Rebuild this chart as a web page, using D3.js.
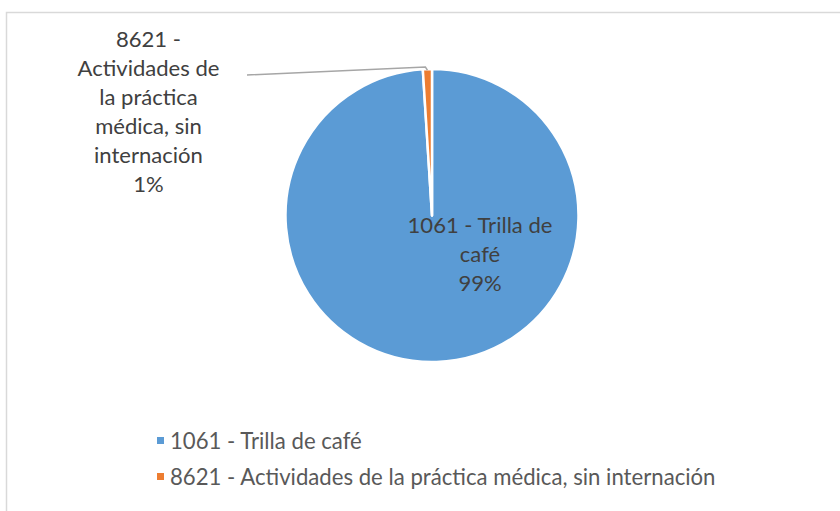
<!DOCTYPE html>
<html>
<head>
<meta charset="utf-8">
<script src="https://cdn.jsdelivr.net/npm/d3@7"></script>
<style>
  body { margin: 0; background: #fff; }
  svg { display: block; }
  text { font-family: Lato, "Open Sans", sans-serif; }
</style>
</head>
<body>
<div id="chart"></div>
<script>
// data
var categories = ["1061 - Trilla de café", "8621 - Actividades de la práctica médica, sin internación"];
var values = [99, 1];
var percentLabels = ["99%", "1%"];
var colors = ["#5B9BD5", "#ED7D31"];
// data label lines as Excel wrapped them
var labelLines = [
  ["1061 - Trilla de", "café"],
  ["8621 -", "Actividades de", "la práctica", "médica, sin", "internación"]
];

var width = 840, height = 511;
var cx = 432, cy = 215.5, radius = 146.5;

var svg = d3.select("#chart").append("svg")
    .attr("width", width)
    .attr("height", height);

// chart area border (only top/left visible in the crop)
svg.append("rect")
    .attr("x", 6.5)
    .attr("y", 12.5)
    .attr("width", 900)
    .attr("height", 600)
    .attr("fill", "#fff")
    .attr("stroke", "#d9d9d9")
    .attr("stroke-width", 1.5);

// helper: find font size so a string gets a target width
function fitSize(str, target){
    var t = svg.append("text").attr("font-size", 100).text(str);
    var w = t.node().getComputedTextLength();
    t.remove();
    return 100 * target / w;
}
var labelSize = fitSize("Actividades de", 142);
var legendSize = fitSize(categories[1], 546);

var pie = d3.pie().sort(null).value(function(d){ return d; });
var arcs = pie(values);

var arc = d3.arc().innerRadius(0).outerRadius(radius);

var g = svg.append("g")
    .attr("transform", "translate(" + cx + "," + cy + ")");

g.selectAll("path")
    .data(arcs)
    .enter().append("path")
    .attr("d", arc)
    .attr("fill", function(d, i){ return colors[i]; })
    .attr("stroke", "#fff")
    .attr("stroke-width", 2.5)
    .attr("stroke-linejoin", "round");

// leader line for the small slice
var small = arcs[1];
var mid = (small.startAngle + small.endAngle) / 2;
var px = Math.sin(mid) * radius, py = -Math.cos(mid) * radius;
g.append("polyline")
    .attr("points", [[247 - cx, 75 - cy], [px - 2, py - 2], [px, py + 1]].map(function(p){ return p.join(","); }).join(" "))
    .attr("fill", "none")
    .attr("stroke", "#a6a6a6")
    .attr("stroke-width", 1.5);

// inside label for the big slice
var inner = svg.append("text")
    .attr("text-anchor", "middle")
    .attr("fill", "#404040")
    .attr("font-size", labelSize);
labelLines[0].concat([percentLabels[0]]).forEach(function(line, i){
    inner.append("tspan")
        .attr("x", cx + 48)
        .attr("y", cy + 17 + i * 29)
        .text(line);
});

// outside label for the small slice
var outer = svg.append("text")
    .attr("text-anchor", "middle")
    .attr("fill", "#404040")
    .attr("font-size", labelSize);
labelLines[1].concat([percentLabels[1]]).forEach(function(line, i){
    outer.append("tspan")
        .attr("x", 148.5)
        .attr("y", 47 + i * 29)
        .text(line);
});

// legend
var legend = svg.append("g");
categories.forEach(function(c, i){
    var y = 449 + i * 36;
    legend.append("rect")
        .attr("x", 157)
        .attr("y", y - 12)
        .attr("width", 7)
        .attr("height", 7)
        .attr("fill", colors[i]);
    legend.append("text")
        .attr("x", 170)
        .attr("y", y)
        .attr("fill", "#595959")
        .attr("font-size", legendSize)
        .text(c);
});
</script>
</body>
</html>
